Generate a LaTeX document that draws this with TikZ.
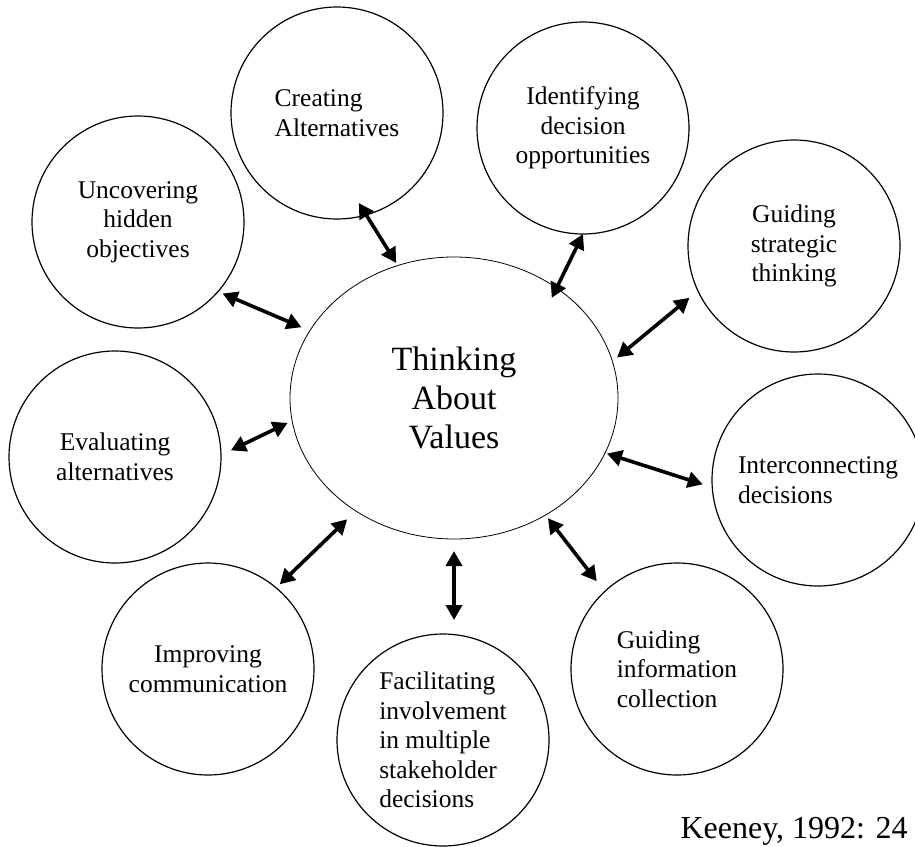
\documentclass[tikz,border=0pt]{standalone}
\usepackage{fontspec}
\setmainfont{Liberation Serif}
\usetikzlibrary{arrows.meta,shapes.geometric}

\begin{document}
\begin{tikzpicture}[x=1pt, y=-1pt,
  bubble/.style={circle,draw,line width=1.2pt,minimum size=212pt,inner sep=0pt,outer sep=0pt,font=\fontsize{25.5}{29.5}\selectfont},
  link/.style={line width=3.6pt,{Triangle[length=15pt,width=16pt]}-{Triangle[length=15pt,width=16pt]}}]
  \clip (0,0) rectangle (915,846);
  % Centre
  \node[ellipse,draw,line width=0.8pt,minimum width=328pt,minimum height=282pt,inner sep=0pt,outer sep=0pt,
        align=center,font=\fontsize{34}{39}\selectfont] (tav) at (454,398) {Thinking\\About\\Values};
  % Uses round it
  \node[bubble,align=left]   (crt) at (337,113) {Creating\\Alternatives};
  \node[bubble,align=center] (unc) at (138,222) {Uncovering\\hidden\\objectives};
  \node[bubble,align=center] (idf) at (583,128) {Identifying\\decision\\opportunities};
  \node[bubble,align=center] (gst) at (794,246) {Guiding\\strategic\\thinking};
  \node[bubble,align=center] (eva) at (115,457) {Evaluating\\alternatives};
  \node[bubble,align=left]   (icd) at (818,480) {Interconnecting\\decisions};
  \node[bubble,align=center] (imp) at (208,669) {Improving\\communication};
  \node[bubble,align=left]   (fac) at (443,740) {Facilitating\\involvement\\in multiple\\stakeholder\\decisions};
  \node[bubble,align=left]   (gic) at (677,669) {Guiding\\information\\collection};
  % Source
  \node[anchor=base west,font=\fontsize{32}{36}\selectfont] (src) at (677,838) {Keeney, 1992: 24};
  % Arrows
  \draw[link,shorten <=-14pt,shorten >=3pt]  (crt.-74)   -- (tav.113.6);
  \draw[link,shorten <=5pt,shorten >=9pt]    (unc.-41)   -- (tav.155);
  \draw[link,shorten <=0pt,shorten >=-11pt]  (idf.-90)   -- (tav.47.6);
  \draw[link,shorten <=11pt,shorten >=6pt]   (gst.205)   -- (tav.13.4);
  \draw[link,shorten <=10pt,shorten >=2pt]   (icd.184)   -- (tav.-20);
  \draw[link,shorten <=13pt,shorten >=4pt]   (gic.133.6) -- (tav.-52);
  \draw[link,shorten <=12pt,shorten >=14pt]  (tav.south) -- (tav.south |- fac.north);
  \draw[link,shorten <=5pt,shorten >=12pt]   (imp.50.9)  -- (tav.-131);
  \draw[link,shorten <=11pt,shorten >=5pt]   (eva.1)     -- (tav.188.6);
\end{tikzpicture}
\end{document}
